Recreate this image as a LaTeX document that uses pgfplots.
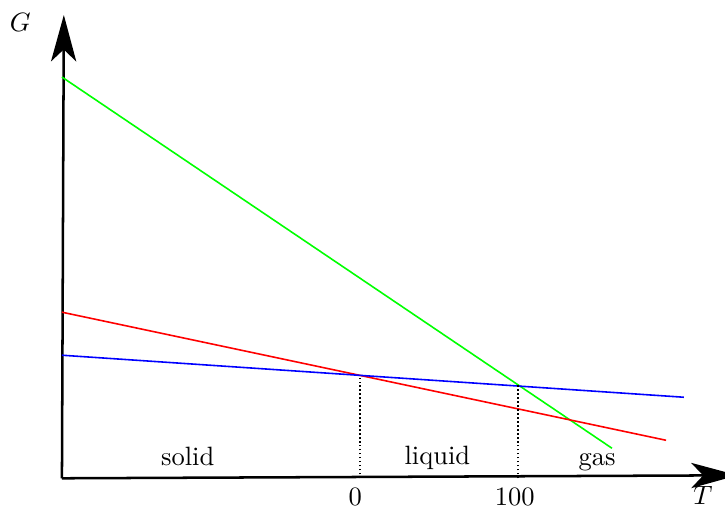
\documentclass[border=0pt]{standalone}
\usepackage{pgfplots}
\pgfplotsset{compat=1.18}
\usetikzlibrary{arrows.meta}
\begin{document}
\begin{tikzpicture}
\begin{axis}[
  x=0.596pt, y=0.3774pt,
  axis lines=none,
  xmin=-188.6, xmax=231, ymin=0, ymax=460,
  clip=false,
]
% bounding box of the whole picture
\path[use as bounding box] (axis cs:-227.8,-30) rectangle (axis cs:231,478);
% axes
\draw[line width=0.95pt, -{Stealth[length=17.5pt,width=9.5pt,inset=4.5pt]}] (axis cs:-188.6,0) -- (axis cs:239,3);
\draw[line width=0.95pt, -{Stealth[length=17.5pt,width=9.5pt,inset=4.5pt]}] (axis cs:-188.6,0) -- (axis cs:-187.4,463);
% phase lines
\addplot[green, line width=0.6pt] coordinates {(-188.6,401) (159.5,30)};
\addplot[red, line width=0.6pt] coordinates {(-188.6,166) (193.7,38)};
\addplot[blue, line width=0.6pt] coordinates {(-188.6,123) (205,81)};
% transitions
\addplot[black, densely dotted, line width=0.5pt] coordinates {(0,0) (0,103)};
\addplot[black, densely dotted, line width=0.5pt] coordinates {(100,0) (100,93)};
% labels
\node at (axis cs:-109,22) {solid};
\node at (axis cs:49,20) {liquid};
\node at (axis cs:150,16) {gas};
\node at (axis cs:-3,-19) {0};
\node at (axis cs:98,-19) {100};
\node at (axis cs:-215,456) {$G$};
\node[inner sep=1pt] at (axis cs:217,-17) {$T$};
\end{axis}
\end{tikzpicture}
\end{document}
